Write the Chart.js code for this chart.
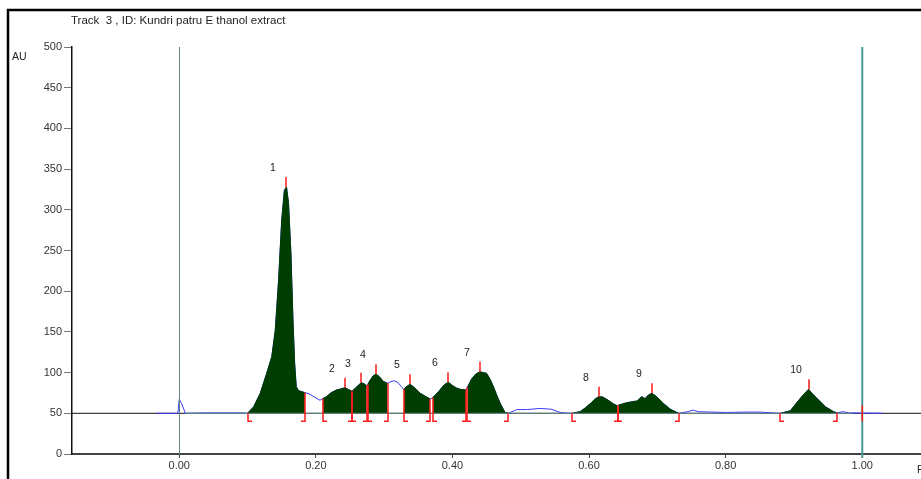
<!DOCTYPE html>
<html>
<head>
<meta charset="utf-8">
<script src="https://cdn.jsdelivr.net/npm/chart.js"></script>
<style>
  body { margin: 0; background: #fff; }
  canvas { display: block; }
</style>
</head>
<body>
<canvas id="chart" width="921" height="479"></canvas>
<script>
// Densitogram trace (Rf, AU)
const traceRf = [
  -0.033, -0.002, 0.000, 0.003, 0.009, 0.040, 0.090,
  0.100, 0.109, 0.1186, 0.128, 0.1355, 0.1406, 0.1455, 0.150, 0.154, 0.157, 0.160, 0.1635, 0.1665, 0.169, 0.1713, 0.1746, 0.184,
  0.190, 0.198, 0.206,
  0.210, 0.215, 0.222, 0.230, 0.237, 0.243, 0.248, 0.253,
  0.258, 0.2665, 0.271, 0.2745,
  0.276, 0.279, 0.284, 0.288, 0.293, 0.299, 0.305,
  0.310, 0.314, 0.320, 0.325,
  0.3285, 0.333, 0.338, 0.345, 0.353, 0.360, 0.3675,
  0.371, 0.380, 0.388, 0.394, 0.400, 0.406, 0.411, 0.420,
  0.422, 0.428, 0.434, 0.440, 0.450, 0.455, 0.460, 0.465, 0.470, 0.477, 0.482,
  0.490, 0.494, 0.510, 0.528, 0.545, 0.558, 0.572,
  0.575, 0.587, 0.595, 0.602, 0.608, 0.614, 0.620, 0.628, 0.636, 0.642,
  0.643, 0.6555, 0.665, 0.670, 0.677, 0.682, 0.687, 0.692, 0.699, 0.709, 0.719, 0.731,
  0.745, 0.752, 0.760, 0.780, 0.800, 0.830, 0.850, 0.870,
  0.880, 0.8946, 0.907, 0.914, 0.9214, 0.927, 0.9336, 0.940, 0.946, 0.958, 0.963,
  0.972, 0.980, 1.030
];
const traceAU = [
  50, 50, 67, 63, 50, 50.5, 50.5,
  50, 58, 74.5, 99, 119.5, 152, 214, 287, 324, 328, 308, 246.6, 164.6, 111, 82.7, 77.8, 75.3,
  74, 70, 66,
  68, 70, 75, 78.6, 80, 81.5, 79, 77,
  81, 87.6, 86, 84,
  85, 90, 96, 98, 95, 89, 86.8,
  89, 90, 88, 83,
  79.5, 83, 85.6, 81, 74.5, 71, 67.5,
  69, 77, 85, 88, 84, 81, 79.5, 78.6,
  82, 92, 98, 101, 99, 92, 82.7, 72, 62, 51, 50,
  53, 54.6, 54.6, 56, 55, 51, 50,
  50, 52, 57, 62, 67, 70.4, 70, 66, 61.4, 59,
  60, 63, 64.5, 65, 70.4, 68, 72.5, 74.5, 70.4, 62, 55, 50,
  52, 54, 52, 51.5, 51, 51.5, 51.5, 50.5,
  50, 53, 66, 73, 79.5, 74, 68.4, 63, 58, 52, 50.5,
  52, 50.5, 50
];

// Integrated peaks
const peakNames = ['1', '2', '3', '4', '5', '6', '7', '8', '9', '10'];
const peakStart = [0.100, 0.210, 0.253, 0.276, 0.3285, 0.371, 0.422, 0.575, 0.643, 0.880];
const peakEnd   = [0.184, 0.253, 0.2745, 0.305, 0.3675, 0.420, 0.482, 0.642, 0.731, 0.963];
const peakApex  = [0.157, 0.243, 0.2665, 0.288, 0.338, 0.394, 0.440, 0.614, 0.692, 0.9214];

// Axes
const yTicks = [0, 50, 100, 150, 200, 250, 300, 350, 400, 450, 500];
const xTicks = [0.00, 0.20, 0.40, 0.60, 0.80, 1.00];
const baselineAU = 50;
const startLineRf = 0.00;
const frontLineRf = 1.00;

const titleText = 'Track  3 , ID: Kundri patru E thanol extract';
const fontFamily = '"Liberation Sans", Arial, sans-serif';

function valueAt(rf) {
  const i = traceRf.indexOf(rf);
  return i >= 0 ? traceAU[i] : baselineAU;
}

const tracePoints = traceRf.map((x, i) => ({ x: x, y: traceAU[i] }));

const peakDatasets = peakNames.map((name, p) => ({
  label: 'Peak ' + name,
  data: tracePoints.filter(pt => pt.x >= peakStart[p] && pt.x <= peakEnd[p]),
  borderColor: '#003d00',
  backgroundColor: '#003d00',
  borderWidth: 1,
  pointRadius: 0,
  tension: 0,
  fill: { value: baselineAU }
}));

const decor = {
  id: 'decor',
  beforeDraw(chart) {
    const ctx = chart.ctx;
    ctx.save();
    ctx.fillStyle = '#fff';
    ctx.fillRect(0, 0, chart.width, chart.height);
    // outer frame
    ctx.strokeStyle = '#000';
    ctx.lineWidth = 2.5;
    ctx.strokeRect(8, 10, chart.width + 50, chart.height + 50);
    // texts
    ctx.fillStyle = '#222';
    ctx.textBaseline = 'middle';
    ctx.textAlign = 'left';
    ctx.font = '11.5px ' + fontFamily;
    ctx.fillText(titleText, 71, 21);
    ctx.font = '10.5px ' + fontFamily;
    ctx.fillText('AU', 12, 57);
    ctx.fillText('Rf', chart.chartArea.right - 4, 470);
    ctx.restore();
  },
  beforeDatasetsDraw(chart) {
    const ctx = chart.ctx, y = chart.scales.y;
    const yb = y.getPixelForValue(baselineAU);
    ctx.save();
    ctx.strokeStyle = '#111';
    ctx.lineWidth = 1;
    ctx.beginPath();
    ctx.moveTo(chart.chartArea.left, yb);
    ctx.lineTo(chart.chartArea.right, yb);
    ctx.stroke();
    ctx.restore();
  },
  afterDatasetsDraw(chart) {
    const ctx = chart.ctx, x = chart.scales.x, y = chart.scales.y;
    const area = chart.chartArea;
    const yb = y.getPixelForValue(baselineAU);
    ctx.save();

    // baseline over the scanned part
    ctx.strokeStyle = '#6a8f8f';
    ctx.lineWidth = 1;
    ctx.beginPath();
    ctx.moveTo(x.getPixelForValue(0.009), yb);
    ctx.lineTo(x.getPixelForValue(0.985), yb);
    ctx.stroke();

    // start line
    const xs0 = Math.round(x.getPixelForValue(startLineRf)) + 0.5;
    ctx.strokeStyle = '#5f8585';
    ctx.lineWidth = 1;
    ctx.beginPath();
    ctx.moveTo(xs0, area.top);
    ctx.lineTo(xs0, area.bottom);
    ctx.stroke();

    // solvent front
    const xf = x.getPixelForValue(frontLineRf);
    ctx.strokeStyle = '#4f9797';
    ctx.lineWidth = 2;
    ctx.beginPath();
    ctx.moveTo(xf, area.top);
    ctx.lineTo(xf, area.bottom + 4);
    ctx.stroke();

    // peak markers
    ctx.strokeStyle = '#ff1a1a';
    ctx.lineWidth = 1.5;
    const drop = 8, foot = 4, apexTick = 10;
    peakNames.forEach((name, p) => {
      const xs = Math.round(x.getPixelForValue(peakStart[p]));
      const xe = Math.round(x.getPixelForValue(peakEnd[p]));
      ctx.beginPath();
      ctx.moveTo(xs, y.getPixelForValue(valueAt(peakStart[p])));
      ctx.lineTo(xs, yb + drop);
      ctx.lineTo(xs + foot, yb + drop);
      ctx.moveTo(xe, y.getPixelForValue(valueAt(peakEnd[p])));
      ctx.lineTo(xe, yb + drop);
      ctx.lineTo(xe - foot, yb + drop);
      const xa = Math.round(x.getPixelForValue(peakApex[p]));
      const ya = y.getPixelForValue(valueAt(peakApex[p]));
      ctx.moveTo(xa, ya);
      ctx.lineTo(xa, ya - apexTick);
      ctx.stroke();

      ctx.fillStyle = '#222';
      ctx.font = '10.5px ' + fontFamily;
      ctx.textAlign = 'center';
      ctx.textBaseline = 'middle';
      ctx.fillText(name, xa - 13, ya - apexTick - 9);
    });
    // front marker on the baseline
    ctx.beginPath();
    ctx.moveTo(xf, yb - 8);
    ctx.lineTo(xf, yb + 8);
    ctx.stroke();

    ctx.restore();
  }
};

new Chart(document.getElementById('chart'), {
  type: 'line',
  data: {
    datasets: [
      ...peakDatasets,
      {
        label: 'Scan',
        data: tracePoints,
        borderColor: '#3a3aff',
        borderWidth: 1,
        pointRadius: 0,
        tension: 0,
        fill: false
      }
    ]
  },
  options: {
    responsive: false,
    animation: false,
    events: [],
    layout: { padding: { top: 47, left: 0, right: 0, bottom: 0 } },
    plugins: {
      legend: { display: false },
      tooltip: { enabled: false },
      title: { display: false }
    },
    scales: {
      x: {
        type: 'linear',
        min: -0.157,
        max: 1.086,
        afterFit: s => { s.height = 25; },
        afterBuildTicks: s => { s.ticks = xTicks.map(v => ({ value: v })); },
        border: { display: true, color: '#444', width: 2 },
        grid: { display: true, drawOnChartArea: false, drawTicks: true, tickLength: 4, color: '#444' },
        ticks: {
          autoSkip: false,
          maxRotation: 0,
          padding: 1,
          color: '#333',
          font: { family: fontFamily, size: 11 },
          callback: v => Number(v).toFixed(2)
        }
      },
      y: {
        min: 0,
        max: 500,
        afterFit: s => { s.width = 72; },
        afterBuildTicks: s => { s.ticks = yTicks.map(v => ({ value: v })); },
        border: { display: true, color: '#111', width: 1.5 },
        grid: { display: true, drawOnChartArea: false, drawTicks: true, tickLength: 8, color: '#777' },
        ticks: {
          padding: 2,
          color: '#333',
          font: { family: fontFamily, size: 11 }
        }
      }
    }
  },
  plugins: [decor]
});
</script>
</body>
</html>
